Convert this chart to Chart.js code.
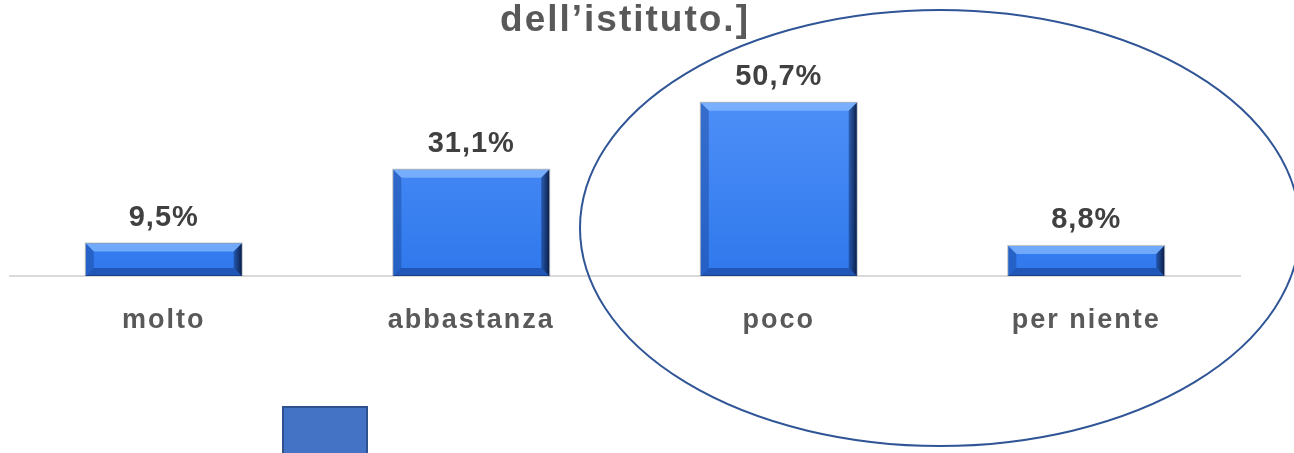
<!DOCTYPE html>
<html>
<head>
<meta charset="utf-8">
<script src="https://cdn.jsdelivr.net/npm/chart.js@4"></script>
<style>
  html, body { margin: 0; padding: 0; background: #fff; }
  canvas { display: block; }
</style>
</head>
<body>
<canvas id="chart" width="1294" height="453"></canvas>
<script>
const categories = ['molto', 'abbastanza', 'poco', 'per niente'];
const percentages = [9.5, 31.1, 50.7, 8.8];
const valueLabels = ['9,5%', '31,1%', '50,7%', '8,8%'];
const titleText = 'dell\u2019istituto.]';

const FONT = "'Liberation Sans', Arial, sans-serif";

// slightly wider letter spacing like the original export
const spacingPlugin = {
    id: 'spacing',
    beforeDraw(chart) {
        chart.ctx.letterSpacing = '2px';
    }
};

// title fragment, ellipse and cut-off legend swatch
const decorPlugin = {
    id: 'decor',
    afterDraw(chart) {
        const ctx = chart.ctx;
        ctx.save();
        ctx.letterSpacing = '2px';
        ctx.fillStyle = '#595959';
        ctx.font = 'bold 37px ' + FONT;
        ctx.textAlign = 'center';
        ctx.textBaseline = 'middle';
        ctx.fillText(titleText, 625, 21);

        ctx.strokeStyle = '#2F5597';
        ctx.lineWidth = 2;
        ctx.beginPath();
        ctx.ellipse(940, 228, 360, 218, 0, 0, Math.PI * 2);
        ctx.stroke();

        ctx.fillStyle = '#4472C4';
        ctx.fillRect(282, 406, 86, 60);
        ctx.strokeStyle = '#2F528F';
        ctx.lineWidth = 2;
        ctx.strokeRect(283, 407, 84, 60);
        ctx.restore();
    }
};

// bevel look + value labels on top of the bars
const bevelPlugin = {
    id: 'bevel',
    afterDatasetsDraw(chart) {
        const ctx = chart.ctx;
        const meta = chart.getDatasetMeta(0);
        meta.data.forEach((bar, i) => {
            const l = bar.x - bar.width / 2;
            const r = bar.x + bar.width / 2;
            const t = bar.y;
            const b = bar.base;
            const bw = 8;
            ctx.save();
            // top highlight
            ctx.fillStyle = 'rgba(140, 190, 255, 0.7)';
            ctx.beginPath();
            ctx.moveTo(l, t); ctx.lineTo(r, t); ctx.lineTo(r - bw, t + bw); ctx.lineTo(l + bw, t + bw);
            ctx.closePath(); ctx.fill();
            // right shade
            const gr = ctx.createLinearGradient(r - bw, 0, r, 0);
            gr.addColorStop(0, 'rgba(20, 50, 110, 0.5)');
            gr.addColorStop(1, 'rgba(10, 25, 60, 0.95)');
            ctx.fillStyle = gr;
            ctx.beginPath();
            ctx.moveTo(r, t); ctx.lineTo(r, b); ctx.lineTo(r - bw, b - bw); ctx.lineTo(r - bw, t + bw);
            ctx.closePath(); ctx.fill();
            // bottom shade
            ctx.fillStyle = 'rgba(20, 60, 140, 0.55)';
            ctx.beginPath();
            ctx.moveTo(l, b); ctx.lineTo(r, b); ctx.lineTo(r - bw, b - bw); ctx.lineTo(l + bw, b - bw);
            ctx.closePath(); ctx.fill();
            // left shade
            ctx.fillStyle = 'rgba(20, 60, 140, 0.4)';
            ctx.beginPath();
            ctx.moveTo(l, t); ctx.lineTo(l + bw, t + bw); ctx.lineTo(l + bw, b - bw); ctx.lineTo(l, b);
            ctx.closePath(); ctx.fill();
            // outline shadow
            ctx.strokeStyle = 'rgba(0, 0, 0, 0.25)';
            ctx.lineWidth = 1;
            ctx.strokeRect(l - 0.5, t - 0.5, bar.width + 1, b - t);

            ctx.letterSpacing = '1px';
            ctx.fillStyle = '#404040';
            ctx.font = 'bold 29px ' + FONT;
            ctx.textAlign = 'center';
            ctx.textBaseline = 'middle';
            ctx.fillText(valueLabels[i], bar.x, t - 26);
            ctx.restore();
        });
    }
};

new Chart(document.getElementById('chart'), {
    type: 'bar',
    data: {
        labels: categories,
        datasets: [{
            data: percentages,
            backgroundColor(context) {
                const area = context.chart.chartArea;
                if (!area) return '#3A80F0';
                const g = context.chart.ctx.createLinearGradient(0, area.top, 0, area.bottom);
                g.addColorStop(0, '#5393FA');
                g.addColorStop(1, '#2F78EC');
                return g;
            },
            borderWidth: 0,
            categoryPercentage: 1,
            barPercentage: 0.507
        }]
    },
    options: {
        responsive: false,
        animation: false,
        layout: { padding: { top: 71, left: 10, right: 54, bottom: 0 } },
        plugins: {
            legend: { display: false },
            title: { display: false },
            tooltip: { enabled: false }
        },
        scales: {
            x: {
                grid: { display: false, drawTicks: false },
                border: { display: true, color: '#D9D9D9', width: 2 },
                ticks: {
                    color: '#595959',
                    font: { family: FONT, size: 27, weight: 'bold' },
                    padding: 28
                },
                afterFit(scale) { scale.height = 177; }
            },
            y: {
                display: false,
                min: 0,
                max: 60
            }
        }
    },
    plugins: [spacingPlugin, decorPlugin, bevelPlugin]
});
</script>
</body>
</html>
